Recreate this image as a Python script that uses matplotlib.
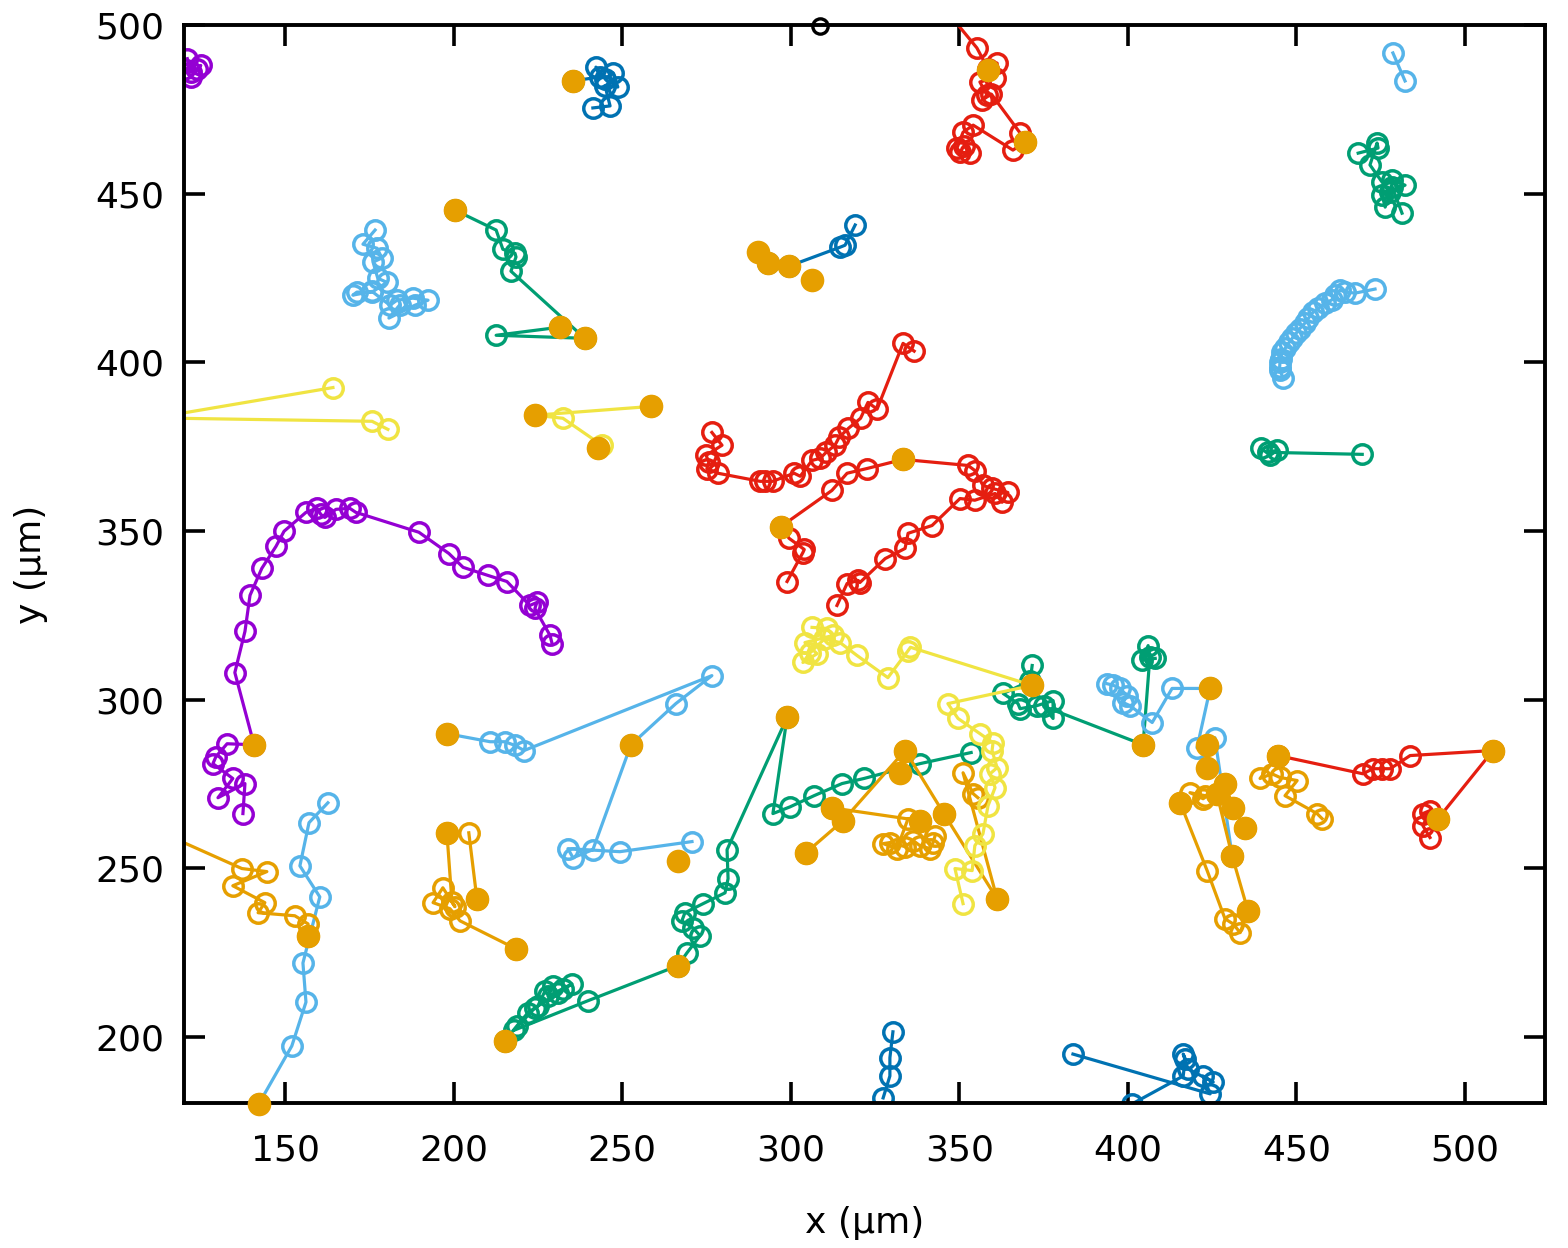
import matplotlib
matplotlib.use("Agg")
import matplotlib.pyplot as plt

# gnuplot default colour cycle
purple = '#9400D3'
green = '#009E73'
sky = '#56B4E9'
orange = '#E69F00'
yellow = '#F0E442'
blue = '#0072B2'
red = '#E51E10'
black = '#000000'

# tracks, (x, y) in um
purple_a = [(121, 490), (122, 486), (124, 487), (125, 488), (122, 484.5), (120, 487)]
purple_b = [(229.2, 316.6), (228.6, 319.0), (224.1, 327.0), (224.7, 328.8), (222.6, 327.9),
            (215.8, 335.0), (210.2, 336.8), (202.8, 339.2), (198.6, 343.3), (189.7, 349.6),
            (171.0, 355.5), (169.2, 356.7), (165.1, 356.4), (161.8, 354.0), (160.6, 354.9),
            (159.5, 356.7), (156.2, 355.5), (149.7, 349.9), (147.3, 345.4), (143.1, 338.9),
            (139.6, 330.9), (138.1, 320.2), (135.1, 308.0), (140.8, 286.6), (132.8, 286.9),
            (129.5, 283.1), (128.6, 281.0), (134.5, 276.6), (130.1, 270.9), (138.1, 275.1),
            (137.5, 266.2)]
sky_a = [(176.7, 439.2), (173.1, 435.0), (177.3, 433.8), (178.7, 430.9), (176.1, 429.7),
         (177.5, 424.9), (180.2, 423.7), (175.8, 420.8), (171.3, 420.8), (170.1, 419.9),
         (175.8, 421.0), (181.1, 416.9), (183.2, 418.4), (187.9, 419.0), (192.4, 418.4),
         (188.5, 416.9), (180.8, 413.1), (184.0, 417.0)]
green_a = [(200.4, 445.1), (212.6, 439.2), (214.6, 433.5), (218.2, 432.3), (218.5, 431.2),
           (217.0, 427.0), (238.9, 407.1), (212.6, 408.0), (231.5, 410.4)]
yellow_a = [(164.2, 392.5), (60, 374.8), (60, 384.3), (175.8, 382.5), (180.5, 380.1)]
yellow_b = [(258.5, 386.9), (224.1, 384.3), (232.4, 383.4), (244.0, 375.4), (242.8, 374.5)]
red_a = [(276.6, 379.2), (279.6, 375.4), (274.9, 372.4), (275.7, 370.3), (275.1, 368.5),
         (278.4, 367.1), (290.9, 364.7), (292.5, 364.7), (294.6, 364.7), (301.0, 367.1),
         (302.8, 366.2), (306.3, 370.9), (308.7, 371.5), (310.5, 373.3), (313.1, 375.4),
         (314.3, 377.7), (317.1, 380.4), (320.7, 383.4), (322.9, 388.1), (325.6, 386.1),
         (333.3, 405.6), (336.6, 403.3)]
red_b = [(298.9, 335.0), (303.6, 343.6), (304.0, 344.5), (299.5, 347.8), (297.1, 351.3),
         (312.2, 362.0), (316.7, 367.1), (322.6, 368.5), (333.3, 371.2), (352.6, 369.4),
         (354.6, 367.9), (357.0, 363.5), (359.7, 362.6), (364.4, 361.4), (362.7, 358.5),
         (360.6, 361.1), (354.6, 359.1), (350.2, 359.6), (341.9, 351.6), (334.8, 349.3),
         (333.9, 344.8), (328.0, 341.8), (320.5, 334.7), (320.0, 335.3), (316.7, 334.4),
         (313.7, 327.9)]
red_c = [(341.4, 510), (355.2, 493.2), (358.5, 487.0), (361.2, 488.7), (360.6, 484.3),
         (356.1, 483.1), (358.2, 479.2), (356.7, 477.7), (359.5, 479.5), (368.0, 468.0),
         (369.5, 465.3), (365.9, 462.9), (354.1, 470.3), (351.1, 468.2), (349.3, 463.5),
         (350.2, 462.3), (353.2, 462.0), (351.5, 464.0)]
red_d = [(444.5, 283.4), (469.7, 278.0), (472.7, 279.5), (475.4, 279.5), (477.8, 279.5),
         (483.7, 283.4), (508.3, 284.9), (492.0, 264.7), (487.5, 266.2), (489.6, 267.1),
         (487.5, 262.6), (489.6, 259.1)]
blue_a = [(235.4, 483.4), (243.4, 484.6), (242.2, 487.5), (245.0, 484.0), (247.3, 485.8),
          (248.7, 481.6), (244.9, 482.0), (246.4, 476.0), (241.3, 475.4)]
blue_b = [(319.1, 440.7), (316.1, 434.7), (314.6, 434.1), (299.5, 428.5), (293.2, 429.4)]
blue_c = [(330.3, 201.5), (329.4, 193.8), (329.4, 188.4), (327.4, 181.9)]
blue_d = [(383.7, 194.9), (424.4, 183.1), (422.3, 188.4), (425.3, 186.6), (417.8, 190.5),
          (416.4, 194.9), (417.0, 193.5), (416.4, 188.4), (401.2, 180.1)]
sky_b = [(478.6, 491.7), (482.2, 483.4)]
green_b = [(468.3, 462.0), (474.2, 463.5), (473.9, 465.0), (471.8, 458.5), (475.4, 453.4),
           (478.4, 454.0), (482.2, 452.5), (477.8, 450.4), (475.4, 449.6), (476.3, 446.0),
           (478.4, 452.0), (481.3, 444.2)]
sky_c = [(473.3, 421.7), (467.4, 420.5), (464.5, 420.8), (462.9, 421.4), (461.4, 419.9),
         (460.5, 418.5), (458.5, 417.5), (456.5, 416.0), (454.9, 414.8), (453.5, 413.0),
         (452.5, 411.6), (451.0, 410.0), (449.9, 408.6), (448.8, 407.2), (447.8, 405.9),
         (446.7, 404.2), (445.7, 402.9), (445.3, 401.0), (445.1, 400.0), (445.0, 398.5),
         (445.1, 397.6), (446.0, 395.3)]
green_c = [(439.5, 374.5), (442.2, 372.4), (444.2, 373.9), (441.5, 373.3), (469.5, 372.7)]
yellow_c = [(306.3, 321.4), (310.7, 321.1), (312.5, 319.0), (304.2, 316.9), (307.8, 313.6),
            (303.6, 311.0), (305.7, 313.9), (310.0, 318.0), (314.6, 316.9), (319.6, 313.1),
            (328.8, 306.5), (334.8, 314.5), (335.5, 315.5), (371.6, 304.2)]
yellow_d = [(371.6, 304.2), (346.6, 298.8), (349.6, 294.4), (356.1, 289.9), (360.0, 287.2),
            (359.7, 284.9), (361.2, 279.8), (359.1, 278.0), (360.6, 273.9), (358.5, 268.5),
            (357.0, 260.2), (354.6, 256.7), (353.8, 249.3), (348.7, 249.9), (351.1, 239.5)]
sky_d = [(198.0, 289.9), (210.8, 287.5), (215.2, 287.5), (218.2, 286.4), (220.9, 284.9),
         (276.6, 307.1), (265.9, 298.8), (252.6, 286.6), (241.3, 255.5), (235.4, 253.1),
         (233.9, 255.8), (249.3, 254.9), (270.7, 257.9)]
sky_e = [(162.7, 269.4), (157.1, 263.5), (154.4, 250.7), (160.3, 241.5), (155.3, 221.9),
         (156.2, 210.3), (152.0, 197.3), (142.2, 180.1)]
sky_f = [(393.8, 304.7), (395.5, 304.3), (397.7, 303.3), (399.7, 301.2), (398.6, 299.1),
         (400.6, 298.2), (407.2, 293.2), (413.1, 303.3), (424.4, 303.3), (420.5, 285.7),
         (425.8, 288.7), (430.9, 253.7)]
green_d = [(215.2, 198.8), (218.8, 203.3), (222.0, 207.1), (225.0, 209.2), (227.1, 213.6),
           (229.5, 215.1), (228.0, 212.0), (232.4, 214.3), (235.1, 215.7), (231.0, 213.0),
           (224.0, 208.5), (218.0, 202.0), (239.8, 210.7), (266.5, 221.1), (269.2, 224.9),
           (273.1, 230.0), (271.0, 232.3), (267.7, 234.4), (268.6, 236.8), (274.0, 239.5),
           (280.5, 242.7), (281.4, 246.9), (281.1, 255.5), (298.9, 294.7), (294.7, 266.2),
           (299.8, 268.2), (306.9, 271.5), (315.2, 275.1), (321.7, 276.6), (338.3, 281.0),
           (353.5, 284.3)]
green_e = [(371.6, 310.1), (371.0, 305.5), (363.0, 301.8), (367.4, 298.8), (368.0, 297.3),
           (373.0, 298.2), (377.8, 299.7), (377.8, 294.4), (375.0, 298.0), (404.5, 286.6),
           (406.5, 312.5), (406.0, 316.0), (404.2, 311.6), (408.1, 312.2)]
orange_a = [(100, 266.5), (137.2, 249.9), (144.6, 249.0), (134.5, 244.8), (144.0, 239.8),
            (142.0, 236.8), (152.9, 235.9), (156.8, 233.5), (156.8, 230.0)]
orange_b = [(218.5, 226.1), (201.9, 234.4), (198.9, 238.0), (193.9, 239.8), (196.8, 244.2),
            (200.4, 238.6), (199.5, 240.0), (198.0, 260.5)]
orange_c = [(204.5, 260.5), (206.9, 240.9)]
orange_d = [(304.5, 254.6), (315.5, 264.1), (333.9, 284.9), (345.4, 266.2), (361.2, 240.9),
            (351.1, 278.3), (354.1, 272.1), (355.5, 270.9)]
orange_e = [(312.2, 267.9), (338.3, 264.1), (334.8, 264.7), (331.5, 255.8), (327.4, 257.3),
            (329.4, 257.6), (333.9, 256.4), (336.3, 258.2), (338.3, 256.7), (341.3, 255.8),
            (342.2, 257.6), (342.8, 259.6)]
orange_f = [(415.5, 269.4), (423.5, 249.3), (428.8, 235.0), (431.2, 233.5), (433.3, 230.9),
            (435.6, 237.4), (430.9, 253.7), (426.4, 272.1), (422.9, 271.5), (418.4, 272.4),
            (422.3, 270.6), (428.8, 275.1), (431.2, 268.0), (434.7, 262.0)]
orange_g = [(444.5, 283.4), (439.2, 276.6), (442.7, 278.0), (445.1, 276.9), (450.2, 276.0),
            (446.6, 271.5), (456.1, 266.2), (457.6, 264.7)]
black_a = [(308.7, 499.6)]

# filled markers
dots = [(140.8, 286.6), (200.4, 445.1), (231.5, 410.4), (238.9, 407.1), (224.1, 384.3),
        (258.5, 386.9), (242.8, 374.5), (235.4, 483.4), (290.3, 432.6), (293.2, 429.4),
        (299.5, 428.5), (306.3, 424.3), (358.5, 486.6), (369.5, 465.3), (297.1, 351.3),
        (333.3, 371.2), (371.6, 304.2), (198.0, 289.9), (252.6, 286.6), (266.5, 252.2),
        (142.2, 180.1), (156.8, 230.0), (198.0, 260.5), (206.9, 240.9), (218.5, 226.1),
        (215.2, 198.8), (266.5, 221.1), (298.9, 294.7), (333.9, 284.9), (332.4, 278.3),
        (345.4, 266.2), (338.3, 264.1), (361.2, 240.9), (312.2, 267.9), (315.5, 264.1),
        (304.5, 254.6), (404.5, 286.6), (424.4, 303.3), (423.5, 286.4), (423.5, 279.8),
        (428.8, 275.1), (426.4, 272.1), (431.2, 268.0), (434.7, 262.0), (430.9, 253.7),
        (435.6, 237.4), (444.5, 283.4), (415.5, 269.4), (508.3, 284.9), (492.0, 264.7)]

tracks = [(purple_a, purple), (purple_b, purple), (green_a, green), (green_b, green),
          (green_c, green), (green_d, green), (green_e, green), (sky_a, sky), (sky_b, sky),
          (sky_c, sky), (sky_d, sky), (sky_e, sky), (sky_f, sky), (orange_a, orange),
          (orange_b, orange), (orange_c, orange), (orange_d, orange), (orange_e, orange),
          (orange_f, orange), (orange_g, orange), (yellow_a, yellow), (yellow_b, yellow),
          (yellow_c, yellow), (yellow_d, yellow), (blue_a, blue), (blue_b, blue),
          (blue_c, blue), (blue_d, blue), (red_a, red), (red_b, red), (red_c, red),
          (red_d, red)]

plt.rcParams['font.family'] = ['DejaVu Sans']
fig = plt.figure(figsize=(15.68, 12.48), dpi=100)
ax = fig.add_axes([0.1173, 0.1162, 0.868, 0.8638])

for pts, col in tracks:
    xs = [p[0] for p in pts]
    ys = [p[1] for p in pts]
    ax.plot(xs, ys, '-', color=col, lw=2.3, marker='o', ms=14,
            mfc='none', mec=col, mew=2.5)

ax.plot([p[0] for p in black_a], [p[1] for p in black_a], 'o', ms=11,
        mfc='none', mec=black, mew=2.4, clip_on=False, zorder=5)

ax.plot([p[0] for p in dots], [p[1] for p in dots], 'o', ms=17,
        color=orange, mec='none', clip_on=False, zorder=4)

ax.set_xlim(120, 523.7)
ax.set_ylim(180.4, 500)
ax.set_xticks([150, 200, 250, 300, 350, 400, 450, 500])
ax.set_yticks([200, 250, 300, 350, 400, 450, 500])
ax.tick_params(direction='in', length=15, width=2.6, top=True, right=True,
               labelsize=26)
ax.tick_params(axis='x', pad=22)
ax.tick_params(axis='y', pad=14)
for s in ax.spines.values():
    s.set_linewidth(2.8)

ax.set_xlabel('x (µm)', fontsize=26, labelpad=28)
ax.set_ylabel('y (µm)', fontsize=26, labelpad=34)

fig.savefig('out.png', dpi=100)
